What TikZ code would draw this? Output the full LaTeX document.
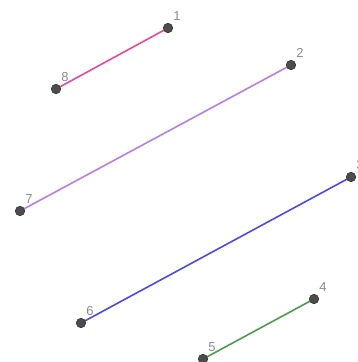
\documentclass[tikz,border=0pt]{standalone}
\usepackage{fontspec}
\setmainfont{Liberation Sans}
\begin{document}
\begin{tikzpicture}[
		x=1pt,
		y=-1pt,
		ponto/.style={circle, fill=black!70, draw=black!80, line width=0.6pt, minimum size=9.5pt, inner sep=0pt},
		rotulo/.style={text=black!45, font=\fontsize{13}{15}\selectfont, inner sep=0.5pt},
		seg/.style={line width=1.6pt}
	]
	\useasboundingbox (0,0) rectangle (357,362);

	% ---- cores dos segmentos ---------------------------------------
	\definecolor{rosa}{HTML}{E8489C}
	\definecolor{lilas}{HTML}{B77FE6}
	\definecolor{azul}{HTML}{4A4AE6}
	\definecolor{verde}{HTML}{4C9A4C}

	% ---- pontos ----------------------------------------------------
	\coordinate (c1) at (168,28);
	\coordinate (c8) at (56,89);
	\coordinate (c2) at (291,65);
	\coordinate (c7) at (20,211);
	\coordinate (c3) at (351,177);
	\coordinate (c6) at (81,323);
	\coordinate (c4) at (314,299);
	\coordinate (c5) at (203,359);

	% ---- segmentos -------------------------------------------------
	\draw[seg, rosa] (c8) -- (c1);
	\draw[seg, lilas] (c7) -- (c2);
	\draw[seg, azul] (c6) -- (c3);
	\draw[seg, verde] (c5) -- (c4);

	% ---- marcas e rotulos ------------------------------------------
	\foreach \i in {1,...,8} {
			\node[ponto] (p\i) at (c\i) {};
			\node[rotulo, anchor=south west] (r\i) at ([shift={(1,-3)}]p\i.north east) {\i};
		}
\end{tikzpicture}
\end{document}
